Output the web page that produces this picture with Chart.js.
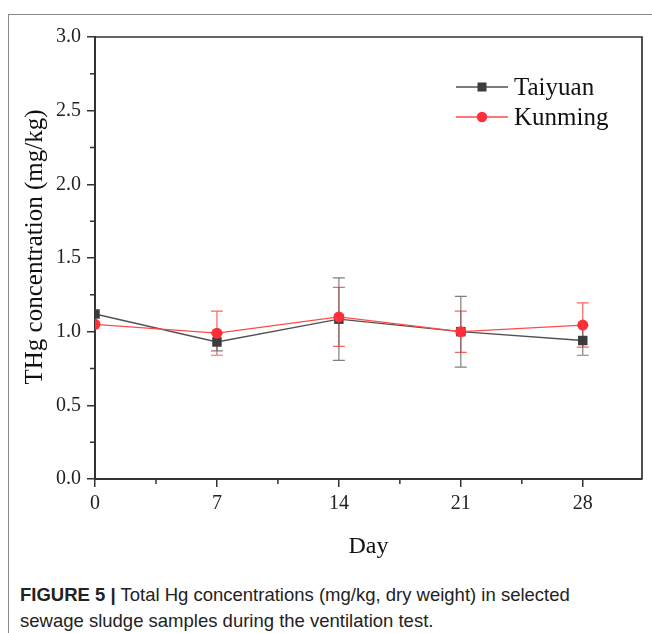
<!DOCTYPE html>
<html>
<head>
<meta charset="utf-8">
<script src="https://cdn.jsdelivr.net/npm/chart.js@4.4.1/dist/chart.umd.min.js"></script>
<style>
  html, body { margin: 0; padding: 0; background: #fff; }
  #page { position: relative; width: 652px; height: 633px; overflow: hidden; }
  #frame { position: absolute; left: 8px; top: 14px; width: 700px; height: 700px;
           border-top: 1px solid #8a8a8a; border-left: 1px solid #8a8a8a; }
  #wrap { position: absolute; left: 0; top: 0; width: 652px; height: 565px; }
  #caption { position: absolute; left: 20px; top: 582px; width: 630px;
             font-family: "Liberation Sans", Arial, sans-serif;
             font-size: 18.5px; line-height: 26px; color: #222; white-space: nowrap; }
</style>
</head>
<body>
<div id="page">
  <div id="frame"></div>
  <div id="wrap"><canvas id="thgChart"></canvas></div>
  <div id="caption"><b>FIGURE 5 |</b> Total Hg concentrations (mg/kg, dry weight) in selected<br>sewage sludge samples during the ventilation test.</div>
</div>
<script>
// ---- data ----
const days = [0, 7, 14, 21, 28];
const taiyuan = [1.12, 0.93, 1.085, 1.00, 0.94];
const taiyuanErr = [0, 0.06, 0.28, 0.24, 0.10];
const kunming = [1.05, 0.99, 1.10, 1.00, 1.045];
const kunmingErr = [0, 0.15, 0.20, 0.14, 0.15];
const xTicks = [0, 7, 14, 21, 28];
const yTicks = [0.0, 0.5, 1.0, 1.5, 2.0, 2.5, 3.0];
const seriesNames = ['Taiyuan', 'Kunming'];

const serif = "'Liberation Serif', 'Times New Roman', serif";
const grayLine = '#505050';
const grayMark = '#3c3c3c';
const redLine = '#ff4a4a';
const redMark = '#ff2f3a';

const toPoints = (vals) => days.map((d, i) => ({ x: d, y: vals[i] }));

// error bars, box, minor ticks, legend, y title
const extras = {
    id: 'extras',
    beforeDatasetsDraw(chart) {
        const { ctx, scales: { x, y } } = chart;
        ctx.save();
        ctx.beginPath();
        ctx.rect(chart.chartArea.left, chart.chartArea.top, chart.chartArea.width, chart.chartArea.height);
        ctx.clip();
        chart.data.datasets.forEach((ds) => {
            ctx.strokeStyle = ds.errColor;
            ctx.lineWidth = 1.2;
            ds.errors.forEach((e, i) => {
                if (!e) return;
                const px = x.getPixelForValue(ds.data[i].x);
                const top = y.getPixelForValue(ds.data[i].y + e);
                const bot = y.getPixelForValue(ds.data[i].y - e);
                ctx.beginPath();
                ctx.moveTo(px, top); ctx.lineTo(px, bot);
                ctx.moveTo(px - 6, top); ctx.lineTo(px + 6, top);
                ctx.moveTo(px - 6, bot); ctx.lineTo(px + 6, bot);
                ctx.stroke();
            });
        });
        ctx.restore();
    },
    afterDraw(chart) {
        const { ctx, chartArea: a, scales: { x, y } } = chart;
        ctx.save();
        // top and right sides of the box
        ctx.strokeStyle = '#333';
        ctx.lineWidth = 1.7;
        ctx.beginPath();
        ctx.moveTo(a.left, a.top); ctx.lineTo(a.right, a.top); ctx.lineTo(a.right, a.bottom);
        ctx.stroke();
        // minor ticks
        ctx.lineWidth = 1.5;
        ctx.beginPath();
        for (let i = 0; i < xTicks.length; i++) {
            const v = xTicks[i] + 3.5;
            if (v > x.max) break;
            const px = x.getPixelForValue(v);
            ctx.moveTo(px, a.bottom); ctx.lineTo(px, a.bottom + 5);
        }
        for (let i = 0; i < yTicks.length - 1; i++) {
            const py = y.getPixelForValue(yTicks[i] + 0.25);
            ctx.moveTo(a.left, py); ctx.lineTo(a.left - 5, py);
        }
        ctx.stroke();
        // legend
        const rows = [
            { name: seriesNames[0], line: grayLine, mark: grayMark, style: 'rect', y: 87 },
            { name: seriesNames[1], line: redLine, mark: redMark, style: 'circle', y: 117 }
        ];
        rows.forEach((r) => {
            ctx.strokeStyle = r.line;
            ctx.lineWidth = 1.3;
            ctx.beginPath();
            ctx.moveTo(456, r.y); ctx.lineTo(508, r.y);
            ctx.stroke();
            ctx.fillStyle = r.mark;
            if (r.style === 'rect') {
                ctx.fillRect(477.5, r.y - 4.5, 9, 9);
            } else {
                ctx.beginPath();
                ctx.arc(482, r.y, 5.2, 0, Math.PI * 2);
                ctx.fill();
            }
            ctx.fillStyle = '#111';
            ctx.font = '25px ' + serif;
            ctx.textAlign = 'left';
            ctx.textBaseline = 'middle';
            ctx.fillText(r.name, 514, r.y + 1);
        });
        // y axis title
        ctx.translate(35, 247);
        ctx.rotate(-Math.PI / 2);
        ctx.fillStyle = '#111';
        ctx.font = '25px ' + serif;
        ctx.textAlign = 'center';
        ctx.textBaseline = 'middle';
        ctx.fillText('THg concentration (mg/kg)', 0, 0);
        ctx.restore();
    }
};

new Chart(document.getElementById('thgChart'), {
    type: 'line',
    data: {
        datasets: [
            {
                label: seriesNames[1],
                data: toPoints(kunming),
                errors: kunmingErr,
                errColor: 'rgba(255, 70, 70, 0.85)',
                borderColor: redLine,
                borderWidth: 1.2,
                backgroundColor: redMark,
                pointBackgroundColor: redMark,
                pointBorderWidth: 0,
                pointStyle: 'circle',
                pointRadius: 5.5,
                clip: 0,
                tension: 0
            },
            {
                label: seriesNames[0],
                data: toPoints(taiyuan),
                errors: taiyuanErr,
                errColor: 'rgba(95, 95, 95, 0.8)',
                borderColor: grayLine,
                borderWidth: 1.3,
                backgroundColor: grayMark,
                pointBackgroundColor: grayMark,
                pointBorderWidth: 0,
                pointStyle: 'rect',
                pointRadius: 6.7,
                clip: 0,
                tension: 0
            }
        ]
    },
    options: {
        responsive: true,
        maintainAspectRatio: false,
        animation: false,
        layout: { padding: { left: 0, top: 37, right: 10, bottom: 0 } },
        plugins: { legend: { display: false }, tooltip: { enabled: false } },
        scales: {
            x: {
                type: 'linear',
                min: 0,
                max: 31.4,
                afterFit: (s) => { s.height = 86; },
                afterBuildTicks: (s) => { s.ticks = xTicks.map((v) => ({ value: v })); },
                ticks: {
                    font: { family: serif, size: 20 },
                    color: '#222',
                    padding: 5,
                    callback: (v) => String(v)
                },
                grid: { display: true, drawOnChartArea: false, drawTicks: true, tickLength: 8, color: '#333', lineWidth: 1.5 },
                border: { display: true, color: '#333', width: 2 },
                title: { display: true, text: 'Day', font: { family: serif, size: 24 }, color: '#111', padding: { top: 0, bottom: 4 } }
            },
            y: {
                min: 0,
                max: 3,
                afterFit: (s) => { s.width = 95; },
                afterBuildTicks: (s) => { s.ticks = yTicks.map((v) => ({ value: v })); },
                ticks: {
                    font: { family: serif, size: 20 },
                    color: '#222',
                    padding: 6,
                    callback: (v) => v.toFixed(1)
                },
                grid: { display: true, drawOnChartArea: false, drawTicks: true, tickLength: 8, color: '#333', lineWidth: 1.5 },
                border: { display: true, color: '#333', width: 2 }
            }
        }
    },
    plugins: [extras]
});
</script>
</body>
</html>
